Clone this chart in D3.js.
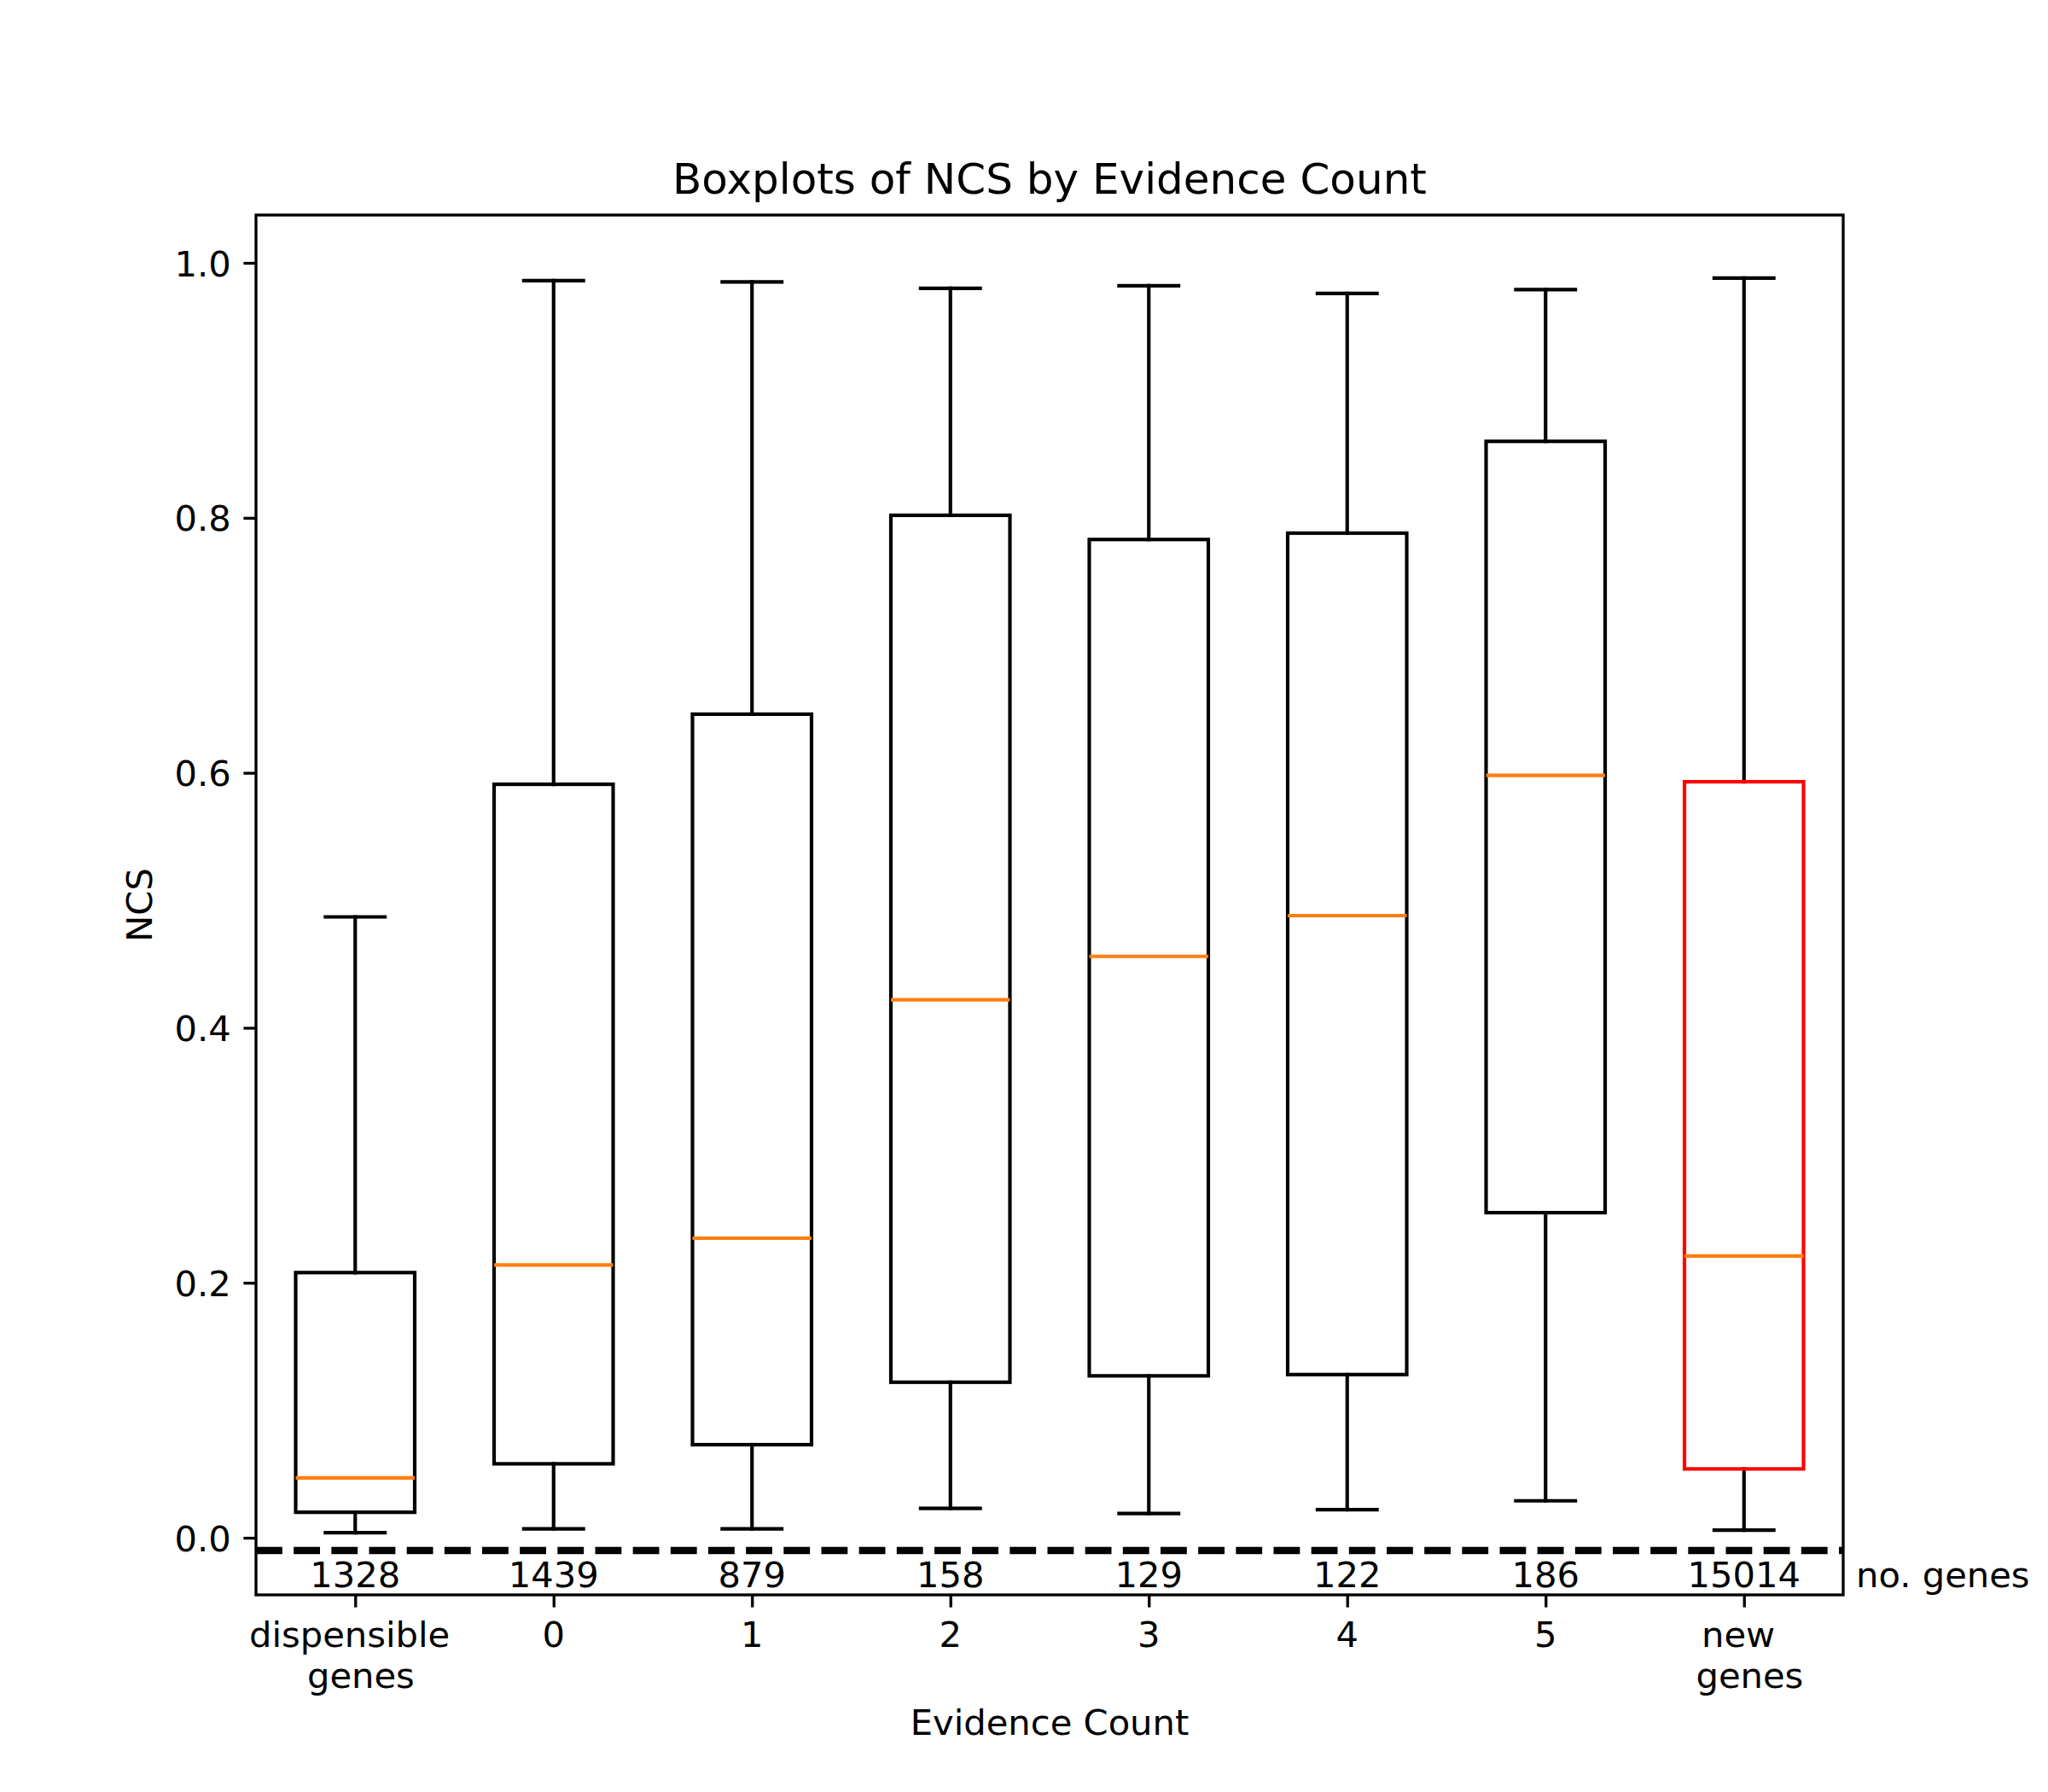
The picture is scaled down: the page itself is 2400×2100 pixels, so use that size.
<!DOCTYPE html>
<html>
<head>
<meta charset="utf-8">
<script src="https://cdn.jsdelivr.net/npm/d3@7"></script>
<style>
  html, body { margin: 0; padding: 0; background: #ffffff; }
  svg { display: block; }
  text { font-family: "DejaVu Sans", sans-serif; fill: #000; }
</style>
</head>
<body>
<svg id="chart" width="2400" height="2100"></svg>
<script>
// ---- data ----
const categories = ["dispensible \n genes", "0", "1", "2", "3", "4", "5", "new \n genes"];
const whiskerLow  = [0.004, 0.007, 0.007, 0.023, 0.019, 0.022, 0.029, 0.006];
const q1          = [0.020, 0.058, 0.073, 0.122, 0.127, 0.128, 0.255, 0.054];
const medians     = [0.047, 0.214, 0.235, 0.422, 0.456, 0.488, 0.598, 0.221];
const q3          = [0.208, 0.591, 0.646, 0.802, 0.783, 0.788, 0.860, 0.593];
const whiskerHigh = [0.487, 0.986, 0.985, 0.980, 0.982, 0.976, 0.979, 0.988];
const geneCounts  = ["1328", "1439", "879", "158", "129", "122", "186", "15014"];
const yTicks      = [0.0, 0.2, 0.4, 0.6, 0.8, 1.0];
const boxColors   = ["black", "black", "black", "black", "black", "black", "black", "red"];

const title = "Boxplots of NCS by Evidence Count";
const xLabel = "Evidence Count";
const yLabel = "NCS";
const countLabel = "no. genes";
const thresholdY = -0.01;
const countTextY = -0.039;

// ---- layout ----
const W = 2400, H = 2100;
const L = 300, R = 2160, T = 252, B = 1869;
const pt = 300 / 72;
const fs = 10 * pt;

const svg = d3.select("#chart");

const positions = categories.map((d, i) => i + 1);
const x = d3.scaleLinear().domain([0.5, 8.5]).range([L, R]);
const y = d3.scaleLinear().domain([-0.0448, 1.0375]).range([B, T]);

const boxW = 0.6, capW = 0.3;
const lw = 1 * pt;

const data = positions.map((p, i) => ({
  p, lo: whiskerLow[i], q1: q1[i], med: medians[i], q3: q3[i], hi: whiskerHigh[i],
  color: boxColors[i], count: geneCounts[i]
}));

const defs = svg.append("defs");
defs.append("clipPath").attr("id", "axclip")
  .append("rect").attr("x", L).attr("y", T).attr("width", R - L).attr("height", B - T);

const g = svg.append("g").attr("clip-path", "url(#axclip)");

// boxes
const bg = g.selectAll("g.box").data(data).enter().append("g").attr("class", "box");
// whiskers
bg.append("line")
  .attr("x1", d => x(d.p)).attr("x2", d => x(d.p))
  .attr("y1", d => y(d.q1)).attr("y2", d => y(d.lo))
  .attr("stroke", "black").attr("stroke-width", lw).attr("stroke-linecap", "square");
bg.append("line")
  .attr("x1", d => x(d.p)).attr("x2", d => x(d.p))
  .attr("y1", d => y(d.q3)).attr("y2", d => y(d.hi))
  .attr("stroke", "black").attr("stroke-width", lw).attr("stroke-linecap", "square");
// caps
bg.append("line")
  .attr("x1", d => x(d.p - capW / 2)).attr("x2", d => x(d.p + capW / 2))
  .attr("y1", d => y(d.lo)).attr("y2", d => y(d.lo))
  .attr("stroke", "black").attr("stroke-width", lw).attr("stroke-linecap", "square");
bg.append("line")
  .attr("x1", d => x(d.p - capW / 2)).attr("x2", d => x(d.p + capW / 2))
  .attr("y1", d => y(d.hi)).attr("y2", d => y(d.hi))
  .attr("stroke", "black").attr("stroke-width", lw).attr("stroke-linecap", "square");
// box
bg.append("rect")
  .attr("x", d => x(d.p - boxW / 2)).attr("width", d => x(d.p + boxW / 2) - x(d.p - boxW / 2))
  .attr("y", d => y(d.q3)).attr("height", d => y(d.q1) - y(d.q3))
  .attr("fill", "none").attr("stroke", d => d.color).attr("stroke-width", lw)
  .attr("stroke-linejoin", "miter");
// median
bg.append("line")
  .attr("x1", d => x(d.p - boxW / 2)).attr("x2", d => x(d.p + boxW / 2))
  .attr("y1", d => y(d.med)).attr("y2", d => y(d.med))
  .attr("stroke", "#ff7f0e").attr("stroke-width", lw).attr("stroke-linecap", "butt");

// dashed threshold line
g.append("line")
  .attr("x1", L).attr("x2", R)
  .attr("y1", y(thresholdY)).attr("y2", y(thresholdY))
  .attr("stroke", "black").attr("stroke-width", 2 * pt)
  .attr("stroke-dasharray", `${7.4 * pt} ${3.2 * pt}`);

// gene counts
svg.selectAll("text.count").data(data).enter().append("text")
  .attr("class", "count")
  .attr("x", d => x(d.p)).attr("y", y(countTextY))
  .attr("text-anchor", "middle").attr("font-size", fs)
  .text(d => d.count);
svg.append("text")
  .attr("x", x(8.565)).attr("y", y(countTextY))
  .attr("text-anchor", "start").attr("font-size", fs)
  .text(countLabel);

// axes
const tickLen = 3.5 * pt, tickPad = 3.5 * pt;
const yAxis = d3.axisLeft(y).tickValues(yTicks).tickFormat(d3.format(".1f"))
  .tickSize(tickLen).tickPadding(tickPad);
const yG = svg.append("g").attr("transform", `translate(${L},0)`).call(yAxis);
yG.select(".domain").remove();
yG.selectAll(".tick line").attr("stroke", "black").attr("stroke-width", 0.8 * pt);
yG.selectAll(".tick text").attr("font-size", fs).attr("font-family", "DejaVu Sans")
  .attr("fill", "black").attr("dy", "0.36em");

const xAxis = d3.axisBottom(x).tickValues(positions).tickFormat("")
  .tickSize(tickLen).tickPadding(tickPad);
const xG = svg.append("g").attr("transform", `translate(0,${B})`).call(xAxis);
xG.select(".domain").remove();
xG.selectAll(".tick line").attr("stroke", "black").attr("stroke-width", 0.8 * pt);
xG.selectAll(".tick text").remove();

// multi-line x tick labels
const firstBaseline = B + tickLen + tickPad + 0.76 * fs;
positions.forEach((p, i) => {
  const lines = categories[i].split("\n");
  const t = svg.append("text")
    .attr("x", x(p)).attr("y", firstBaseline)
    .attr("text-anchor", "middle").attr("font-size", fs)
    .style("white-space", "pre");
  lines.forEach((ln, k) => {
    t.append("tspan").attr("x", x(p)).attr("dy", k === 0 ? 0 : 1.16 * fs)
      .style("white-space", "pre").text(ln);
  });
});

// spines
svg.append("rect")
  .attr("x", L).attr("y", T).attr("width", R - L).attr("height", B - T)
  .attr("fill", "none").attr("stroke", "black").attr("stroke-width", 0.8 * pt);

// title & labels
svg.append("text")
  .attr("x", (L + R) / 2).attr("y", 227)
  .attr("text-anchor", "middle").attr("font-size", 12 * pt)
  .text(title);
svg.append("text")
  .attr("x", (L + R) / 2).attr("y", 2033)
  .attr("text-anchor", "middle").attr("font-size", fs)
  .text(xLabel);
svg.append("text")
  .attr("transform", `translate(178,${(T + B) / 2}) rotate(-90)`)
  .attr("text-anchor", "middle").attr("font-size", fs)
  .text(yLabel);
</script>
</body>
</html>
